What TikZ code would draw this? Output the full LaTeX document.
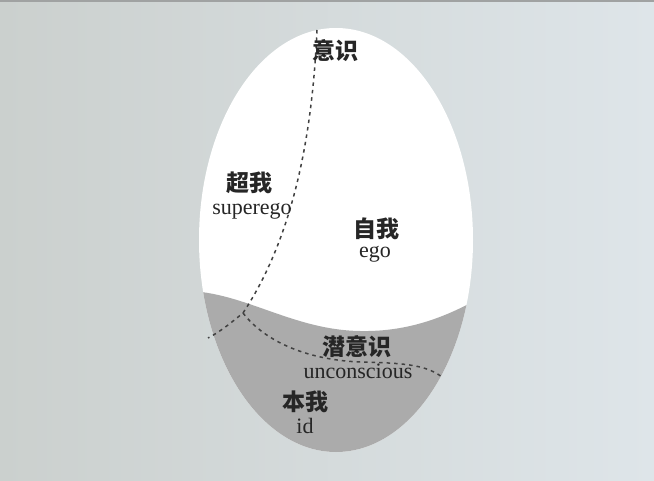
\documentclass[tikz,border=0pt]{standalone}
\usepackage{fontspec}
\setmainfont{Liberation Serif}
\newfontfamily\cjk{Noto Sans CJK SC}
\usetikzlibrary{
  backgrounds
}
\definecolor{bgleft}{RGB}{203,208,206}
\definecolor{bgright}{RGB}{222,229,233}
\definecolor{topband}{RGB}{160,162,162}
\definecolor{idgray}{RGB}{171,171,171}
\definecolor{dashgray}{RGB}{65,65,65}

\begin{document}
\begin{tikzpicture}[
      x=1pt,y=-1pt,
      cnlabel/.style={
         inner sep=0pt,
         text=black!85,
         font=\cjk\bfseries\fontsize{23}{23}\selectfont
      },
      enlabel/.style={
         inner sep=0pt,
         anchor=base,
         text=black!85,
         font=\fontsize{22}{22}\selectfont
      },
      border/.style={
         line width=1.5pt,
         draw=dashgray,
         dash pattern=on 3.5pt off 4pt
      },
      egg/.style={x radius=137, y radius=212}
    ]
    \useasboundingbox (0,0) rectangle (654,481);
    \shade[left color=bgleft,right color=bgright] (0,0) rectangle (654,481);
    \fill[topband] (0,0) rectangle (654,2);
    % egg
    \coordinate (c) at (336,240);
    \fill[white] (c) ellipse [egg];
    \begin{scope}
      \clip (c) ellipse [egg];
      \fill[idgray] (180,291) .. controls (240,289) and (290,330) .. (360,331)
                    .. controls (410,332) and (450,316) .. (490,292)
                    -- (490,470) -- (180,470) -- cycle;
    \end{scope}
    % borders
    \coordinate (top) at (317,30);
    \coordinate (j) at (243,313);
    \coordinate (lend) at (208,338);
    \coordinate (rend) at (442,377);
    \draw[border] (top) .. controls (313,120) and (298,230) .. (j)
                        .. controls (232,322) and (220,332) .. (lend);
    \draw[border] (j) .. controls (266,343) and (310,360) .. (360,362)
                      .. controls (400,363) and (425,364) .. (rend);
    % labels
    \node (yishi)  [cnlabel] at (335,51)  {意识};
    \node (chaowo) [cnlabel] at (249,183) {超我};
    \node (ziwo)   [cnlabel] at (376,229) {自我};
    \node (qian)   [cnlabel] at (357,347) {潜意识};
    \node (benwo)  [cnlabel] at (305,402) {本我};
    \node (superego)    [enlabel] at (252,215) {superego};
    \node (ego)         [enlabel] at (375,258) {ego};
    \node (unconscious) [enlabel] at (358,378) {unconscious};
    \node (id)          [enlabel] at (305,433) {id};
\end{tikzpicture}
\end{document}
